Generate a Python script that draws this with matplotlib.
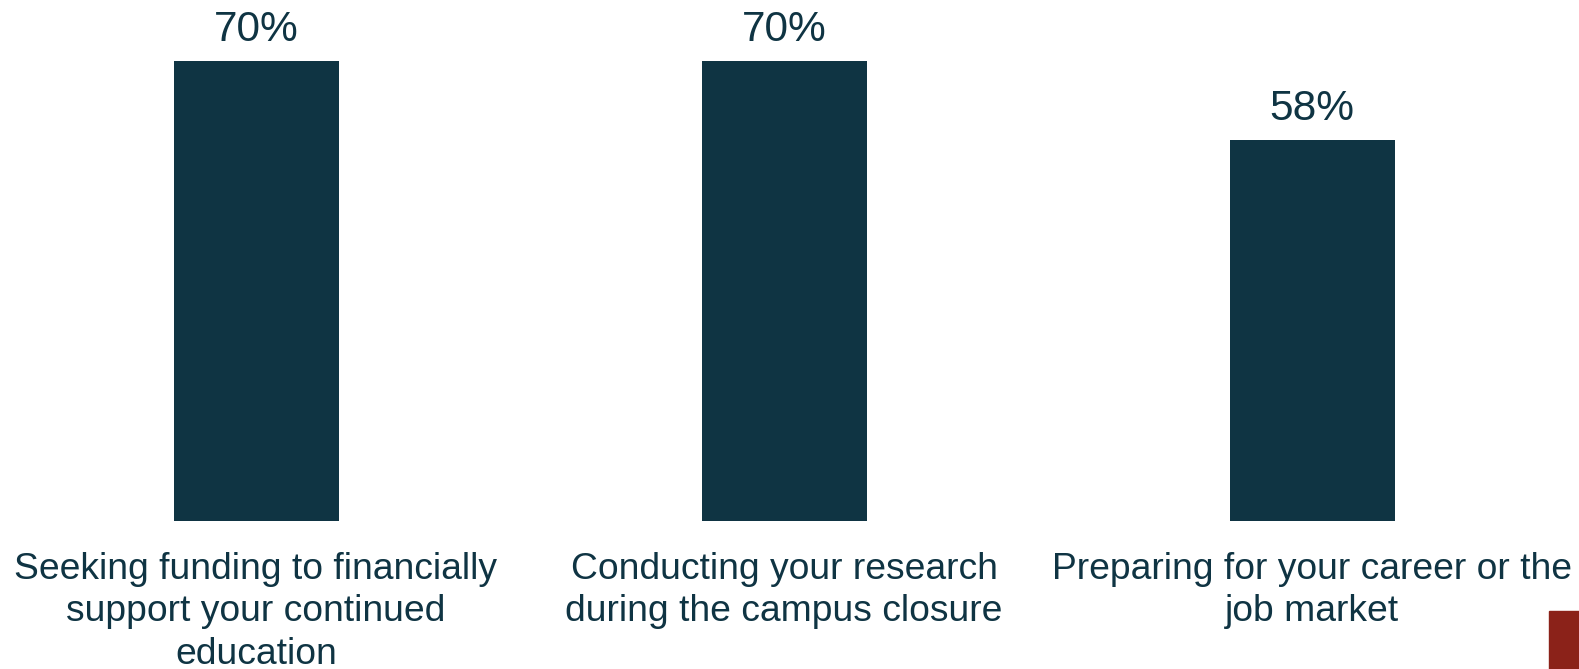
import matplotlib
matplotlib.use('Agg')
import matplotlib.pyplot as plt
from matplotlib.patches import Rectangle

categories = [
    "Seeking funding to financially\nsupport your continued\neducation",
    "Conducting your research\nduring the campus closure",
    "Preparing for your career or the\njob market",
]
values = [70, 70, 58]

navy = '#0F3443'
plt.rcParams['font.family'] = ['Liberation Sans', 'DejaVu Sans']

fig = plt.figure(figsize=(15.79, 6.69), dpi=100)
base = 520.6 / 669
ax = fig.add_axes([0, 1 - base, 1, base])

x = list(range(len(categories)))
bars = ax.bar(x, values, width=0.3125, color=navy)

ax.set_xlim(-256 / 528, 1323 / 528)
ax.set_ylim(0, 70 * 520.6 / 459.2)
ax.axis('off')

for b, v in zip(bars, values):
    ax.annotate(f"{v}%", (b.get_x() + b.get_width() / 2, v),
                xytext=(0, 8), textcoords='offset points',
                ha='center', va='bottom', fontsize=30.5, color=navy)

for xi, label in zip(x, categories):
    ax.annotate(label, (xi, 0), xytext=(0, -22.5), textcoords='offset points',
                ha='center', va='top', fontsize=26.8, color=navy,
                linespacing=1.28, annotation_clip=False)

# small accent block in the lower right corner
fig.patches.append(Rectangle((1549 / 1579, 0), 30 / 1579, 58 / 669,
                             transform=fig.transFigure, color='#8B2219'))

fig.savefig('out.png', dpi=100)
